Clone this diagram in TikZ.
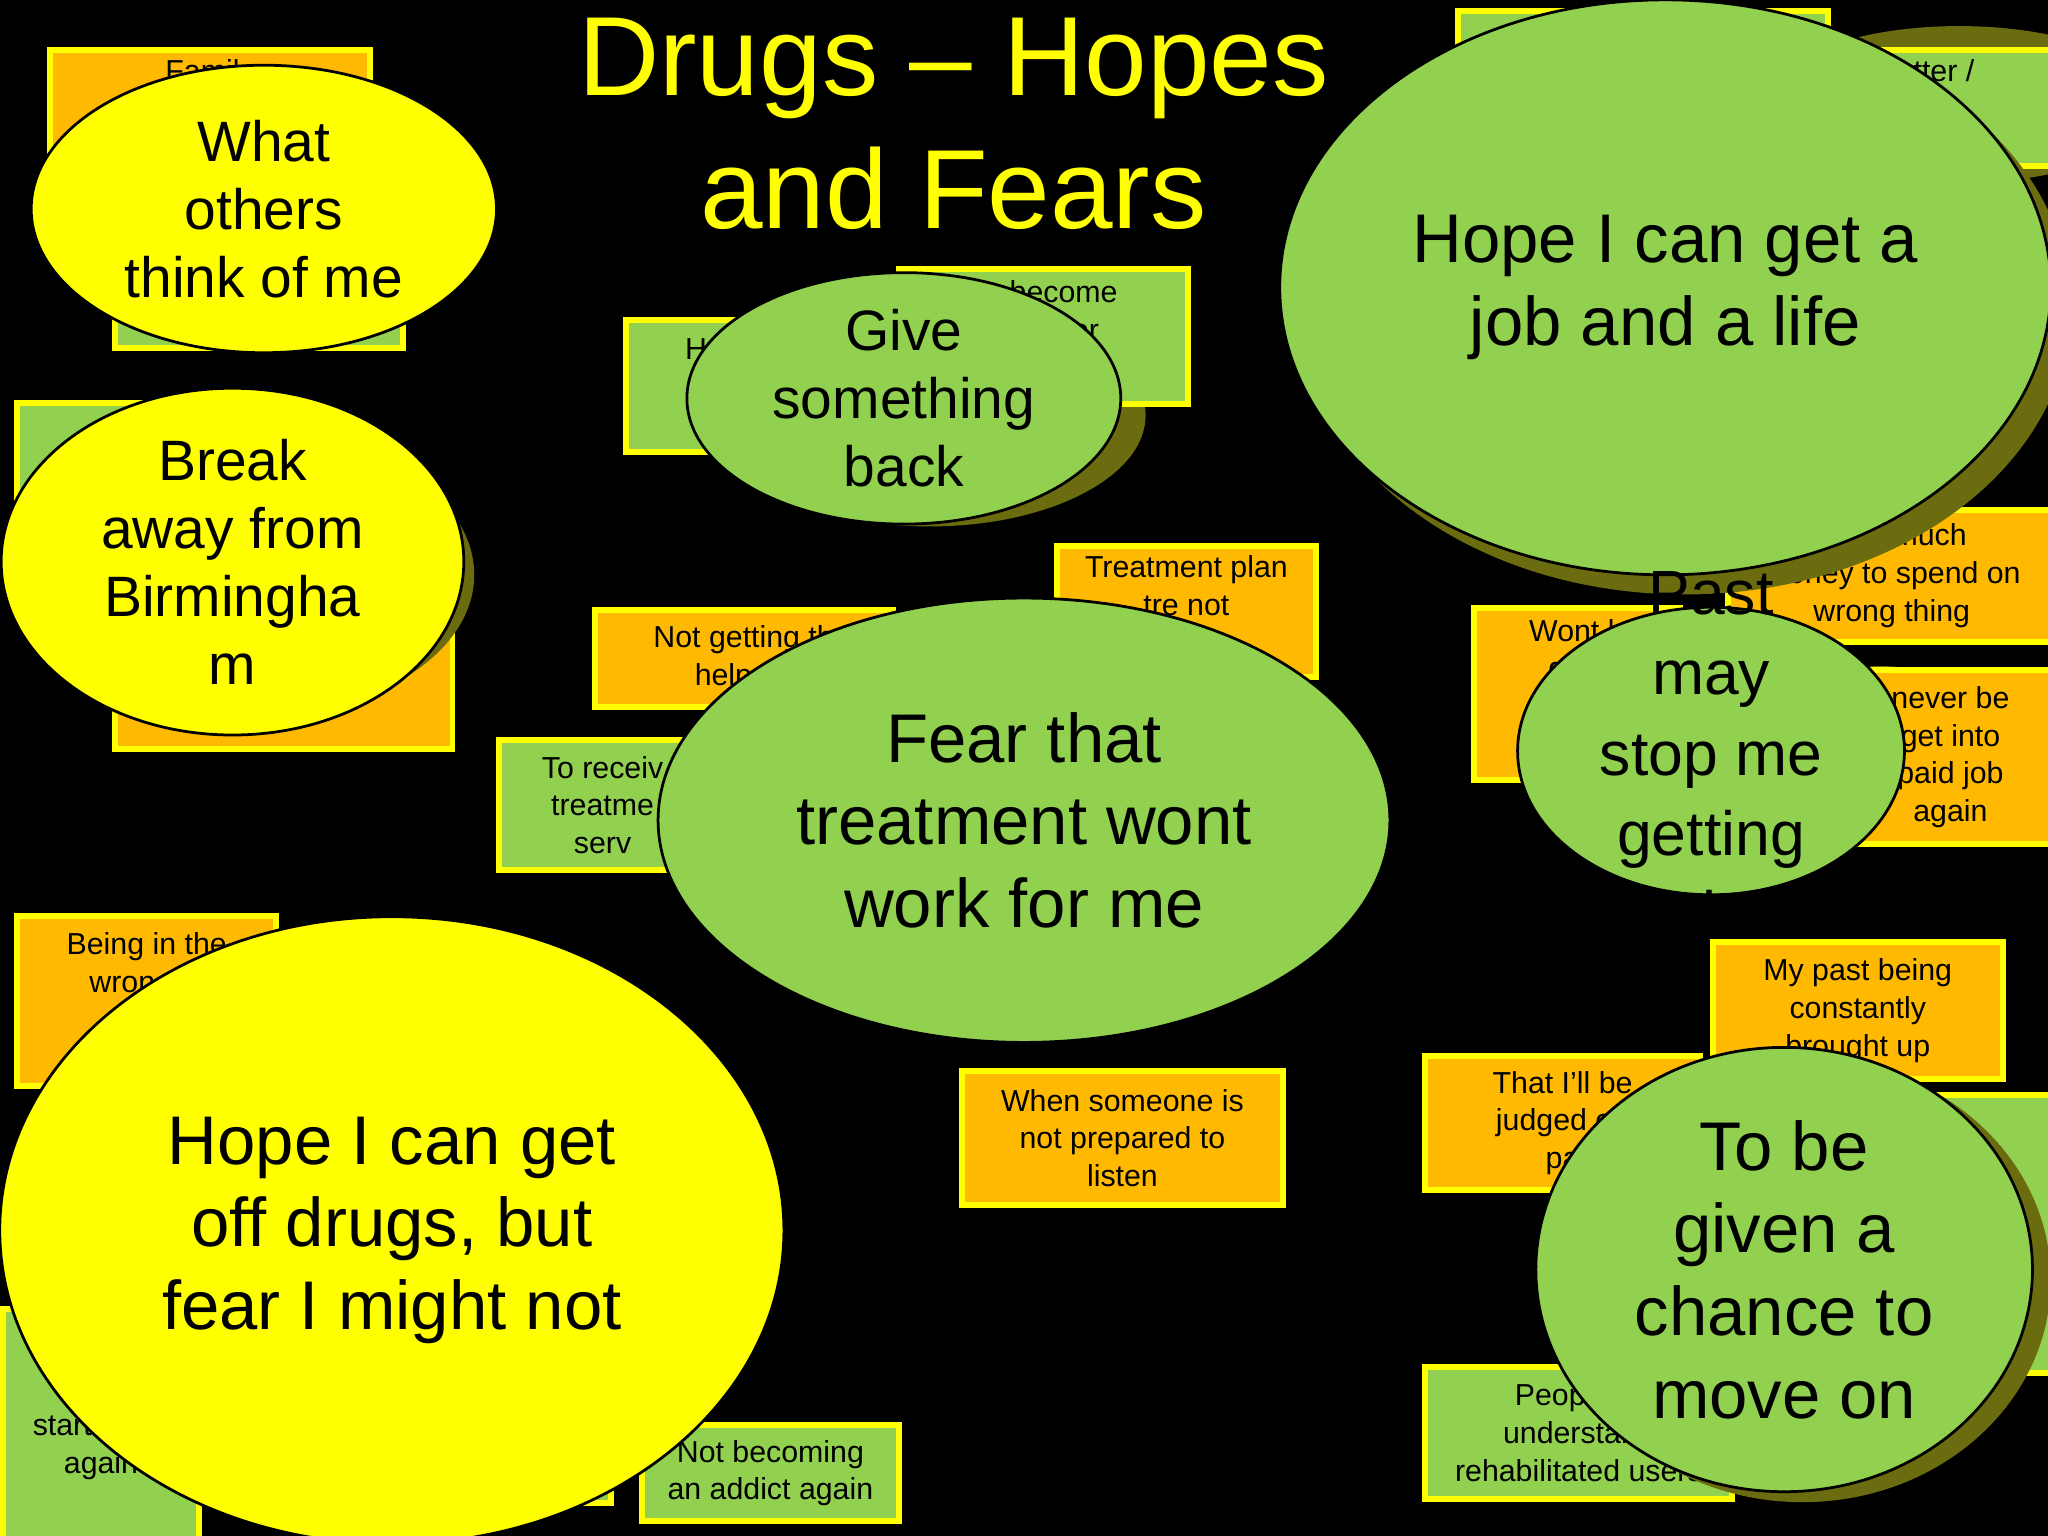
\documentclass[tikz,border=0pt]{standalone}
\usepackage{fontspec}
\setmainfont{Liberation Sans}
\usetikzlibrary{shapes.geometric}
\definecolor{org}{HTML}{FFB900}
\definecolor{grn}{HTML}{92D050}
\definecolor{yel}{HTML}{FFFF00}
\definecolor{shd}{HTML}{6B6B10}
\tikzset{
 rbox/.style={draw=yel, line width=1.3pt, anchor=north west, inner sep=2pt, align=center, font=\fontsize{6.6}{8.2}\selectfont, text=black},
 ob/.style={rbox, fill=org},
 gb/.style={rbox, fill=grn},
 ell/.style={ellipse, draw=black, line width=0.6pt, inner sep=0pt, align=center, text=black},
 sh/.style={ellipse, fill=shd, inner sep=0pt},
 fs/.style={font=\fontsize{12.4}{14.8}\selectfont},
 fb/.style={font=\fontsize{15}{18}\selectfont},
}
\begin{document}
\begin{tikzpicture}[x=0.01cm,y=-0.01cm]
\fill[black] (0,0) rectangle (1568,1176);
\useasboundingbox (0,0) rectangle (1568,1176);
\clip (0,0) rectangle (1568,1176);
% title
\node[text=yel, font=\fontsize{24.5}{29}\selectfont, align=center] (title) at (730,95) {Drugs -- Hopes\\and Fears};
% rectangles
\node[ob, minimum width=2.45cm, minimum height=1.12cm, text depth=0.7cm] (r1) at (36,36) {Family\\fi};
\node[gb, minimum width=2.2cm, minimum height=0.33cm] (r1b) at (86,231) {};
\node[gb, minimum width=2.22cm, minimum height=0.83cm, text depth=0.4cm] (r2) at (11,306) {To get\\p};
\node[ob, minimum width=2.58cm, minimum height=1.0cm, text height=0.5cm] (r3) at (86,471) {and no\\job};
\node[gb, minimum width=1.38cm, minimum height=1.01cm] (r4) at (477,243) {Help\\b\\t};
\node[sh, minimum width=3.3cm, minimum height=1.7cm] (s5) at (712,318) {};
\node[gb, minimum width=2.21cm, minimum height=1.03cm, text depth=0.4cm] (r5) at (686,204) {To become\\member};
\node[ob, minimum width=1.98cm, minimum height=0.98cm, text depth=0.4cm] (r6) at (807,416) {Treatment plan\\tre not};
\node[ob, minimum width=2.28cm, minimum height=0.74cm] (r7) at (453,465) {Not getting th\\help yo};
\node[gb, minimum width=1.58cm, minimum height=1.0cm] (r8) at (380,564) {To receiv\\treatme\\serv};
\node[ob, minimum width=1.98cm, minimum height=1.3cm, text depth=0.3cm] (r9) at (11,699) {Being in the\\wrong pl\\wron};
\node[ob, minimum width=2.46cm, minimum height=1.02cm] (r10) at (734,818) {When someone is\\not prepared to\\listen};
\node[gb, minimum width=1.97cm, minimum height=0.73cm] (r11) at (489,1089) {Not becoming\\an addict again};
\node[gb, minimum width=4.65cm, minimum height=1.48cm] (r12b) at (0,1000) {};
\node[gb, minimum width=1.5cm, minimum height=1.76cm, text height=0.8cm] (r12) at (0,1000) {comp\\be dr\\start living\\again};
\node[gb, minimum width=2.83cm, minimum height=1.0cm] (r13) at (1114,6) {};
\node[sh, minimum width=3cm, minimum height=1.2cm] (s14) at (1500,80) {};
\node[gb, minimum width=1.7cm, minimum height=0.73cm] (r14) at (1401,36) {tter /\\ \\};
\node[ob, minimum width=2.5cm, minimum height=1.01cm] (r15) at (1321,388) {g too much\\money to spend on\\wrong thing};
\node[ob, minimum width=1.58cm, minimum height=1.32cm, text depth=0.4cm] (r16) at (1126,463) {Wont b\\gain\\b};
\node[sh, minimum width=1.8cm, minimum height=1.3cm] (s17) at (1440,575) {};
\node[ob, minimum width=1.6cm, minimum height=1.33cm] (r17) at (1411,511) {never be\\get into\\paid job\\again};
\node[ob, minimum width=2.22cm, minimum height=1.05cm] (r18) at (1309,719) {My past being\\constantly\\brought up};
\node[ob, minimum width=2.1cm, minimum height=1.03cm] (r19) at (1089,806) {That I'll be\\judged on\\pa};
\node[gb, minimum width=1.2cm, minimum height=2.13cm] (r20) at (1451,836) {ld\\a};
\node[gb, minimum width=2.35cm, minimum height=1.01cm] (r21) at (1089,1044) {People to\\understand\\rehabilitated users};
% ellipses
\node[sh, minimum width=3.5cm, minimum height=2.2cm] (sB) at (188,440) {};
\node[ell, fill=yel, minimum width=3.56cm, minimum height=2.2cm, fs] (eA) at (202,160) {What\\others\\think of me};
\node[ell, fill=yel, minimum width=3.54cm, minimum height=2.2cm, fs] (eB) at (178,430) {Break\\away from\\Birmingha\\m};
\node[ell, fill=grn, minimum width=3.32cm, minimum height=1.7cm, fs] (eC) at (692,305) {Give\\something\\back};
\node[sh, minimum width=5.9cm, minimum height=4.4cm] (sD) at (1290,235) {};
\node[ell, fill=grn, minimum width=5.9cm, minimum height=4.4cm, fb] (eD) at (1275,220) {Hope I can get a\\job and a life};
\node[ell, fill=grn, minimum width=5.6cm, minimum height=3.4cm, fb] (eE) at (784,628) {Fear that\\treatment wont\\work for me};
\node[ell, fill=grn, minimum width=2.96cm, minimum height=2.2cm] (eF) at (1310,575) {};
\node[font=\fontsize{13.6}{17.5}\selectfont, align=center, text=black] (tF) at (1310,582) {Past\\may\\stop me\\getting\\jobs};
\node[ell, fill=yel, minimum width=6.0cm, minimum height=4.8cm, fb] (eG) at (300,942) {Hope I can get\\off drugs, but\\fear I might not};
\node[sh, minimum width=3.8cm, minimum height=3.4cm] (sH) at (1380,980) {};
\node[ell, fill=grn, minimum width=3.8cm, minimum height=3.4cm, fb] (eH) at (1366,972) {To be\\given a\\chance to\\move on};
\end{tikzpicture}
\end{document}
